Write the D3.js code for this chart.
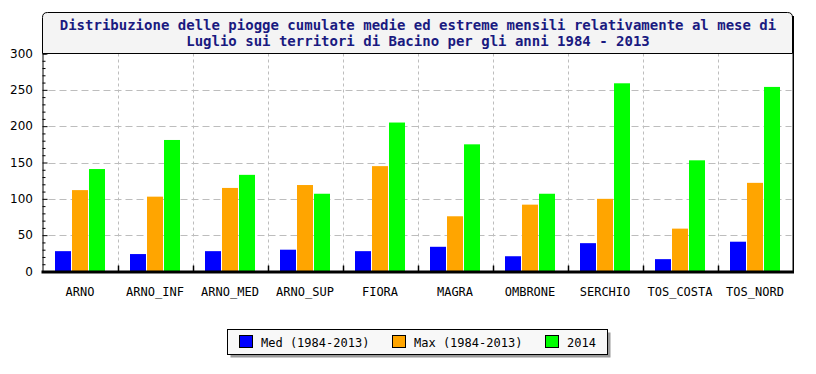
<!DOCTYPE html>
<html><head><meta charset="utf-8">
<script src="https://cdn.jsdelivr.net/npm/d3@7/dist/d3.min.js"></script>
<style>body{margin:0;background:#fff}svg{display:block}</style>
</head><body>
<script>
const categories = ["ARNO","ARNO_INF","ARNO_MED","ARNO_SUP","FIORA","MAGRA","OMBRONE","SERCHIO","TOS_COSTA","TOS_NORD"];
const seriesNames = ["Med (1984-2013)","Max (1984-2013)","2014"];
const medValues = [28, 24, 28, 30, 28, 34, 21, 39, 17, 41];
const maxValues = [112, 103, 115, 119, 145, 76, 92, 100, 59, 122];
const y2014Values = [141, 181, 133, 107, 205, 175, 107, 259, 153, 254];
const yTicks = [0, 50, 100, 150, 200, 250, 300];
const titleLines = ["Distribuzione delle piogge cumulate medie ed estreme mensili relativamente al mese di",
                    "Luglio sui territori di Bacino per gli anni 1984 - 2013"];
const colors = ["#0000ff", "#ffa500", "#00ff00"];

const W = 816, H = 374;
const L = 42.5, R = 792.5, T = 53.5, B = 271.5;
const svg = d3.select("body").append("svg").attr("width", W).attr("height", H);

const data = categories.map((c, i) => ({cat: c, vals: [medValues[i], maxValues[i], y2014Values[i]]}));

const x0 = d3.scaleBand().domain(categories).range([L, R]).paddingInner(0).paddingOuter(0);
const x1 = d3.scaleBand().domain(d3.range(3)).range([12.5, 62.5]).paddingInner(0.06);
const y = d3.scaleLinear().domain([0, 300]).range([B, T]);

// title box
const r = 5;
svg.append("path")
  .attr("d", `M${L},${T} L${L},12.5+${r} Z`.replace("12.5+"+r, 12.5 + r) )
  .attr("fill", "none");
svg.append("path")
  .attr("d", `M${L},${T} V${12.5 + r} Q${L},12.5 ${L + r},12.5 H${R - r} Q${R},12.5 ${R},${12.5 + r} V${T} Z`)
  .attr("fill", "#f4f4f4").attr("stroke", "#000").attr("stroke-width", 1);
svg.append("line").attr("x1", R + 0.5).attr("x2", R + 0.5).attr("y1", 16).attr("y2", B)
  .attr("stroke", "#000").attr("stroke-width", 2);

titleLines.forEach((t, i) => {
  svg.append("text").attr("x", 418).attr("y", 30 + i * 16)
    .attr("text-anchor", "middle")
    .attr("font-family", "'DejaVu Sans Mono', monospace").attr("font-weight", "bold")
    .attr("font-size", "14px").attr("fill", "#1a1a80").text(t);
});

// plot background
svg.append("rect").attr("x", L).attr("y", T).attr("width", R - L).attr("height", B - T).attr("fill", "#fff");

// horizontal grid
svg.append("g").selectAll("line").data(yTicks.filter(v => v > 0 && v < 300)).join("line")
  .attr("x1", L + 6).attr("x2", R - 1).attr("y1", d => Math.round(y(d)) + 0.5).attr("y2", d => Math.round(y(d)) + 0.5)
  .attr("stroke", "#bdbdbd").attr("stroke-width", 1).attr("stroke-dasharray", "7,4");

// vertical grid at category boundaries
const bounds = categories.slice(1).map(c => x0(c));
svg.append("g").selectAll("line").data(bounds).join("line")
  .attr("x1", d => Math.round(d) + 0.5).attr("x2", d => Math.round(d) + 0.5).attr("y1", T).attr("y2", B)
  .attr("stroke", "#bdbdbd").attr("stroke-width", 1).attr("stroke-dasharray", "3,3");

// bars
const groups = svg.append("g").selectAll("g").data(data).join("g")
  .attr("transform", d => `translate(${x0(d.cat)},0)`);
groups.selectAll("rect").data(d => d.vals.map((v, i) => ({v, i}))).join("rect")
  .attr("x", d => x1(d.i)).attr("width", x1.bandwidth())
  .attr("y", d => y(d.v)).attr("height", d => B - y(d.v))
  .attr("fill", d => colors[d.i]);

// top border
svg.append("line").attr("x1", L).attr("x2", R).attr("y1", T).attr("y2", T).attr("stroke", "#000");

// y axis
const yAxis = d3.axisRight(y).tickValues(d3.range(0, 301, 10)).tickSize(4).tickFormat("");
const gy = svg.append("g").attr("transform", `translate(${L},0)`).call(yAxis);
gy.select(".domain").attr("stroke", "#000");
gy.selectAll(".tick line").attr("stroke", "#000").attr("x2", d => d % 50 === 0 ? 5 : 3);
svg.append("g").selectAll("text").data(yTicks).join("text")
  .attr("x", 33).attr("y", d => y(d)).attr("dy", "0.36em").attr("text-anchor", "end")
  .attr("font-family", "'DejaVu Sans', sans-serif").attr("font-size", "12px").attr("fill", "#000")
  .text(d => d);

// x axis
svg.append("line").attr("x1", L - 1).attr("x2", R + 1.5).attr("y1", B + 0.5).attr("y2", B + 0.5)
  .attr("stroke", "#000").attr("stroke-width", 3);
svg.append("g").selectAll("line").data(bounds).join("line")
  .attr("x1", d => Math.round(d) + 0.5).attr("x2", d => Math.round(d) + 0.5).attr("y1", B - 6).attr("y2", B)
  .attr("stroke", "#000").attr("stroke-width", 1.5);
svg.append("g").selectAll("text").data(categories).join("text")
  .attr("x", d => x0(d) + x0.bandwidth() / 2).attr("y", 296).attr("text-anchor", "middle")
  .attr("font-family", "'DejaVu Sans Mono', monospace").attr("font-size", "12px").attr("fill", "#000")
  .text(d => d);

// legend
const lg = svg.append("g");
lg.append("rect").attr("x", 230.5).attr("y", 332.5).attr("width", 380).attr("height", 25).attr("fill", "#9a9a9a");
lg.append("rect").attr("x", 227.5).attr("y", 329.5).attr("width", 380).attr("height", 25).attr("fill", "#f8f8f8").attr("stroke", "#000");
const itemX = [239.5, 392.5, 545.5];
seriesNames.forEach((s, i) => {
  lg.append("rect").attr("x", itemX[i]).attr("y", 335.5).attr("width", 13).attr("height", 12)
    .attr("fill", colors[i]).attr("stroke", "#000");
  lg.append("text").attr("x", itemX[i] + 21.5).attr("y", 347)
    .attr("font-family", "'DejaVu Sans Mono', monospace").attr("font-size", "12px").attr("fill", "#000")
    .text(s);
});
</script>
</body></html>
